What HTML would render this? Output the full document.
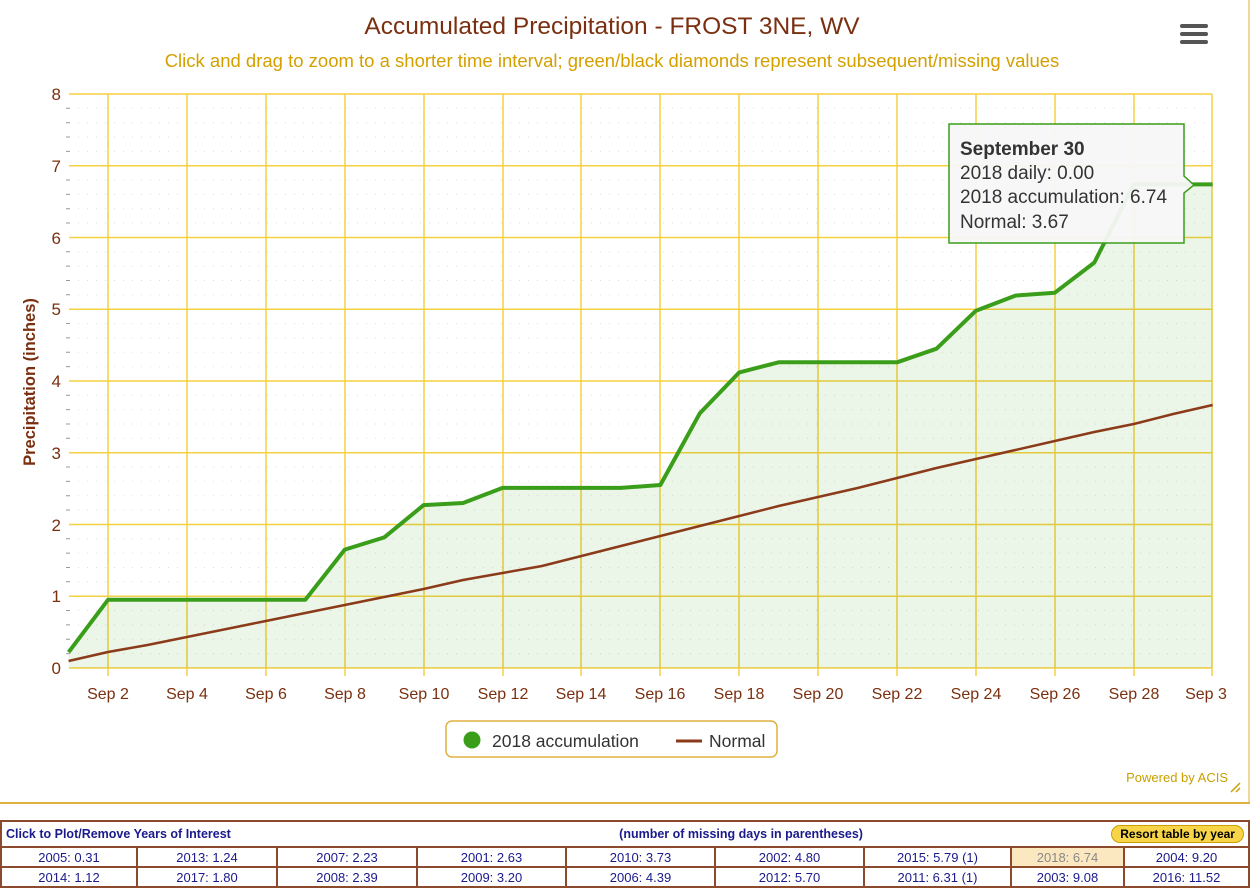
<!DOCTYPE html>
<html><head><meta charset="utf-8"><style>
body{margin:0;width:1250px;height:894px;background:#fff;overflow:hidden;font-family:"Liberation Sans",sans-serif}
#tbl{position:absolute;left:0;top:820px;width:1250px;border-collapse:collapse;font-size:13px;color:#1a1a8c}
#tbl td{border:2px solid #8b4a2b;text-align:center;height:18px;padding:0}
</style></head><body>
<svg width="1250" height="806" style="position:absolute;left:0;top:0" font-family="Liberation Sans, sans-serif">
<rect x="0" y="0" width="1250" height="804" fill="#fff"/>
<line x1="0" y1="803" x2="1250" y2="803" stroke="#e0b040" stroke-width="2"/>
<line x1="1249" y1="0" x2="1249" y2="803" stroke="#e0b040" stroke-width="1"/>
<text x="612" y="34" text-anchor="middle" font-size="24.5" fill="#7a3010">Accumulated Precipitation - FROST 3NE, WV</text>
<text x="612" y="67" text-anchor="middle" font-size="18.5" fill="#d4a000">Click and drag to zoom to a shorter time interval; green/black diamonds represent subsequent/missing values</text>
<g fill="#555"><rect x="1180" y="24" width="28" height="4" rx="2"/><rect x="1180" y="32" width="28" height="4" rx="2"/><rect x="1180" y="40" width="28" height="4" rx="2"/></g>
<g stroke="#ddd" stroke-dasharray="1,8" stroke-width="1">
<path d="M69 108.3H1212M69 122.7H1212M69 137H1212M69 151.4H1212M69 180H1212M69 194.4H1212M69 208.7H1212M69 223H1212M69 251.8H1212M69 266.1H1212M69 280.5H1212M69 294.8H1212M69 323.5H1212M69 337.9H1212M69 352.2H1212M69 366.6H1212M69 395.3H1212M69 409.6H1212M69 424H1212M69 438.3H1212M69 467H1212M69 481.4H1212M69 495.7H1212M69 510H1212M69 538.8H1212M69 553.1H1212M69 567.5H1212M69 581.8H1212M69 610.5H1212M69 624.9H1212M69 639.2H1212M69 653.6H1212"/>
</g>
<g stroke="#999" stroke-width="1"><path d="M66 108.3h4M66 122.7h4M66 137h4M66 151.4h4M66 180h4M66 194.4h4M66 208.7h4M66 223h4M66 251.8h4M66 266.1h4M66 280.5h4M66 294.8h4M66 323.5h4M66 337.9h4M66 352.2h4M66 366.6h4M66 395.3h4M66 409.6h4M66 424h4M66 438.3h4M66 467h4M66 481.4h4M66 495.7h4M66 510h4M66 538.8h4M66 553.1h4M66 567.5h4M66 581.8h4M66 610.5h4M66 624.9h4M66 639.2h4M66 653.6h4"/></g>
<g stroke="#f5d040" stroke-width="1.5">
<path d="M69 94H1212M69 165.7H1212M69 237.5H1212M69 309.2H1212M69 381H1212M69 452.7H1212M69 524.5H1212M69 596.2H1212M69 668H1212"/>
<path d="M108 94V676M187 94V676M266 94V676M345 94V676M424 94V676M503 94V676M581 94V676M660 94V676M739 94V676M818 94V676M897 94V676M976 94V676M1055 94V676M1134 94V676M1212 94V676"/>
</g>
<polygon fill="#3a9e1a" fill-opacity="0.1" points="68.6,652.2 108,599.8 305.3,599.8 344.75,549.6 384.2,537.4 423.65,505.1 463.1,503 502.55,487.9 620.9,487.9 660.35,485 699.8,413.3 739.25,372.4 778.7,362.3 897.05,362.3 936.5,348.7 975.95,310.7 1015.4,295.6 1054.85,292.7 1094.3,262.6 1133.75,184.4 1212.65,184.4 1212.65,668 68.6,668"/>
<polyline fill="none" stroke="#8b3a1a" stroke-width="2.5" points="68.6,661 108,652 147.5,645 187,637 226.4,629 265.9,621 305.3,613 344.75,605 384.2,597 423.65,589 463.1,580 502.55,573 542,566 581.45,556 620.9,546 660.35,536 699.8,526 739.25,516 778.7,506 818.15,497 857.6,488 897.05,478 936.5,468 975.95,459 1015.4,450 1054.85,441 1094.3,432 1133.75,424 1173.2,414 1212.65,405"/>
<polyline fill="none" stroke="#3a9e1a" stroke-width="4" stroke-linejoin="round" points="68.6,652.2 108,599.8 305.3,599.8 344.75,549.6 384.2,537.4 423.65,505.1 463.1,503 502.55,487.9 620.9,487.9 660.35,485 699.8,413.3 739.25,372.4 778.7,362.3 897.05,362.3 936.5,348.7 975.95,310.7 1015.4,295.6 1054.85,292.7 1094.3,262.6 1133.75,184.4 1212.65,184.4"/>
<g font-size="17" fill="#7a3010" text-anchor="end">
<text x="61" y="100">8</text><text x="61" y="172">7</text><text x="61" y="244">6</text><text x="61" y="315">5</text><text x="61" y="387">4</text><text x="61" y="459">3</text><text x="61" y="531">2</text><text x="61" y="602">1</text><text x="61" y="674">0</text>
</g>
<text transform="translate(35,382) rotate(-90)" text-anchor="middle" font-size="16.5" font-weight="bold" fill="#7a3010">Precipitation (inches)</text>
<g font-size="16" fill="#7a3010" text-anchor="middle">
<text x="108" y="699">Sep 2</text><text x="187" y="699">Sep 4</text><text x="266" y="699">Sep 6</text><text x="345" y="699">Sep 8</text><text x="424" y="699">Sep 10</text><text x="503" y="699">Sep 12</text><text x="581" y="699">Sep 14</text><text x="660" y="699">Sep 16</text><text x="739" y="699">Sep 18</text><text x="818" y="699">Sep 20</text><text x="897" y="699">Sep 22</text><text x="976" y="699">Sep 24</text><text x="1055" y="699">Sep 26</text><text x="1134" y="699">Sep 28</text><text x="1206" y="699">Sep 3</text>
</g>
<rect x="446" y="721" width="331" height="36" rx="6" fill="#fff" stroke="#e0b040" stroke-width="1.5"/>
<circle cx="472" cy="740" r="8.5" fill="#3a9e1a"/>
<text x="492" y="747" font-size="17.5" fill="#333">2018 accumulation</text>
<line x1="676" y1="741" x2="702" y2="741" stroke="#8b3a1a" stroke-width="3"/>
<text x="709" y="747" font-size="17.5" fill="#333">Normal</text>
<text x="1228" y="782" text-anchor="end" font-size="13" fill="#c8a000">Powered by ACIS</text>
<path d="M1231 792L1240 783M1236 792L1240 788" stroke="#c8a000" stroke-width="1.5"/>
<path d="M949 124H1184V176L1194 185L1184 193V243H949Z" fill="#f7f7f7" fill-opacity="0.95" stroke="#3a9e1a" stroke-width="1.5"/>
<g font-size="19" fill="#333">
<text x="960" y="155" font-weight="bold">September 30</text>
<text x="960" y="179">2018 daily: 0.00</text>
<text x="960" y="203">2018 accumulation: 6.74</text>
<text x="960" y="228">Normal: 3.67</text>
</g>
</svg>
<table id="tbl">
<tr><td colspan="9" style="height:24px;padding:0 4px;font-weight:bold;font-size:12.5px"><div style="display:flex;justify-content:space-between;align-items:center"><span>Click to Plot/Remove Years of Interest</span><span style="margin-left:140px">(number of missing days in parentheses)</span><span style="display:inline-block;background:#f8d548;border:1px solid #c8a000;border-radius:9px;padding:1px 8px;color:#000;font-size:12px">Resort table by year</span></div></td></tr>
<tr><td style="width:134px">2005: 0.31</td><td style="width:138px">2013: 1.24</td><td style="width:138px">2007: 2.23</td><td style="width:147px">2001: 2.63</td><td style="width:147px">2010: 3.73</td><td style="width:147px">2002: 4.80</td><td style="width:145px">2015: 5.79 (1)</td><td style="width:111px;background:#fbe8c0;color:#888">2018: 6.74</td><td>2004: 9.20</td></tr>
<tr><td>2014: 1.12</td><td>2017: 1.80</td><td>2008: 2.39</td><td>2009: 3.20</td><td>2006: 4.39</td><td>2012: 5.70</td><td>2011: 6.31 (1)</td><td>2003: 9.08</td><td>2016: 11.52</td></tr>
</table>
</body></html>
